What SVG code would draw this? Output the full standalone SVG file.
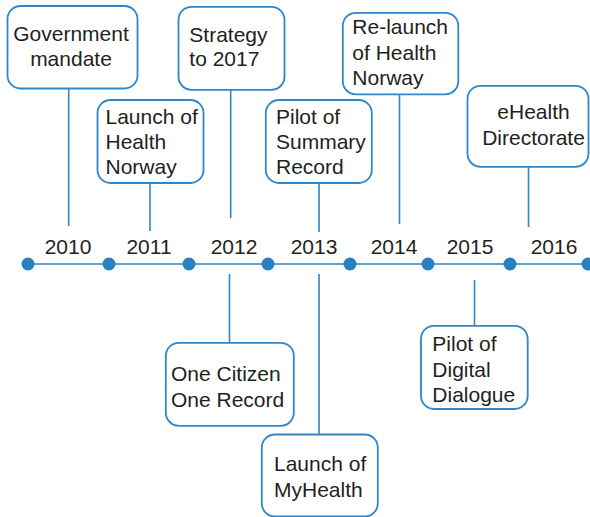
<svg xmlns="http://www.w3.org/2000/svg" width="590" height="517" viewBox="0 0 590 517">
  <style>
    .box { fill: #ffffff; stroke: #2f86c8; stroke-width: 1.8; }
    .lbl { font-family: "Liberation Sans", Arial, sans-serif; font-size: 21px; fill: #231f20; }
    .mid { text-anchor: middle; }
    .year { font-family: "Liberation Sans", Arial, sans-serif; font-size: 21px; fill: #231f20; text-anchor: middle; }
    .link { stroke: #2f86c8; stroke-width: 1.6; fill: none; }
    .dot { fill: #2a7fc0; }
  </style>
  <rect width="590" height="517" fill="#ffffff"/>

  <!-- connectors between events and the timeline -->
  <g id="connectors">
    <line class="link" x1="68.7" y1="88" x2="68.7" y2="226"/>
    <line class="link" x1="150" y1="183" x2="150" y2="231"/>
    <line class="link" x1="230.7" y1="90" x2="230.7" y2="218"/>
    <line class="link" x1="319" y1="183" x2="319" y2="232"/>
    <line class="link" x1="399.5" y1="94" x2="399.5" y2="224"/>
    <line class="link" x1="528.5" y1="167" x2="528.5" y2="227"/>
    <line class="link" x1="229.5" y1="274" x2="229.5" y2="343"/>
    <line class="link" x1="319" y1="274" x2="319" y2="435"/>
    <line class="link" x1="474.5" y1="280" x2="474.5" y2="326"/>
  </g>

  <!-- timeline axis -->
  <g id="timeline">
    <line class="link" x1="28" y1="264" x2="588" y2="264" stroke-width="2"/>
    <circle class="dot" cx="28" cy="264" r="6.5"/>
    <circle class="dot" cx="109" cy="264" r="6.5"/>
    <circle class="dot" cx="189" cy="264" r="6.5"/>
    <circle class="dot" cx="268" cy="264" r="6.5"/>
    <circle class="dot" cx="350" cy="264" r="6.5"/>
    <circle class="dot" cx="428" cy="264" r="6.5"/>
    <circle class="dot" cx="510" cy="264" r="6.5"/>
    <circle class="dot" cx="588" cy="264" r="6.5"/>
    <text class="year" x="68" y="254">2010</text>
    <text class="year" x="149" y="254">2011</text>
    <text class="year" x="234" y="254">2012</text>
    <text class="year" x="314" y="254">2013</text>
    <text class="year" x="394" y="254">2014</text>
    <text class="year" x="470" y="254">2015</text>
    <text class="year" x="554" y="254">2016</text>
  </g>

  <g id="gov-mandate">
    <rect class="box" x="7.5" y="6" width="130" height="82.5" rx="13"/>
    <text class="lbl mid" x="71" y="41">Government</text>
    <text class="lbl mid" x="71" y="66">mandate</text>
  </g>

  <g id="launch-health-norway">
    <rect class="box" x="97.5" y="100" width="106" height="83" rx="13"/>
    <text class="lbl" x="105.5" y="124">Launch of</text>
    <text class="lbl" x="105.5" y="149">Health</text>
    <text class="lbl" x="105.5" y="174">Norway</text>
  </g>

  <g id="strategy">
    <rect class="box" x="178.5" y="6.8" width="106" height="83" rx="13"/>
    <text class="lbl" x="189.3" y="41.5">Strategy</text>
    <text class="lbl" x="189.3" y="65.7">to 2017</text>
  </g>

  <g id="pilot-summary">
    <rect class="box" x="265.8" y="100" width="106" height="83" rx="13"/>
    <text class="lbl" x="276" y="124">Pilot of</text>
    <text class="lbl" x="276" y="149.3">Summary</text>
    <text class="lbl" x="276" y="174">Record</text>
  </g>

  <g id="relaunch">
    <rect class="box" x="342.8" y="12.8" width="115.5" height="81.5" rx="13"/>
    <text class="lbl" x="352.3" y="34.3">Re-launch</text>
    <text class="lbl" x="352.3" y="60">of Health</text>
    <text class="lbl" x="352.3" y="85">Norway</text>
  </g>

  <g id="ehealth-directorate">
    <rect class="box" x="467.5" y="85.8" width="121" height="81" rx="13"/>
    <text class="lbl mid" x="533.5" y="119">eHealth</text>
    <text class="lbl mid" x="533.5" y="145">Directorate</text>
  </g>

  <g id="one-citizen">
    <rect class="box" x="165.8" y="342.8" width="128" height="83" rx="13"/>
    <text class="lbl" x="171" y="380.7">One Citizen</text>
    <text class="lbl" x="171" y="406.7">One Record</text>
  </g>

  <g id="launch-myhealth">
    <rect class="box" x="261.8" y="434.5" width="116" height="82" rx="13"/>
    <text class="lbl" x="274" y="470.7">Launch of</text>
    <text class="lbl" x="274" y="496.7">MyHealth</text>
  </g>

  <g id="pilot-digital">
    <rect class="box" x="421" y="325.8" width="106.7" height="83.2" rx="13"/>
    <text class="lbl" x="432.3" y="350.7">Pilot of</text>
    <text class="lbl" x="432.3" y="376.7">Digital</text>
    <text class="lbl" x="432.3" y="401.7">Dialogue</text>
  </g>
</svg>
